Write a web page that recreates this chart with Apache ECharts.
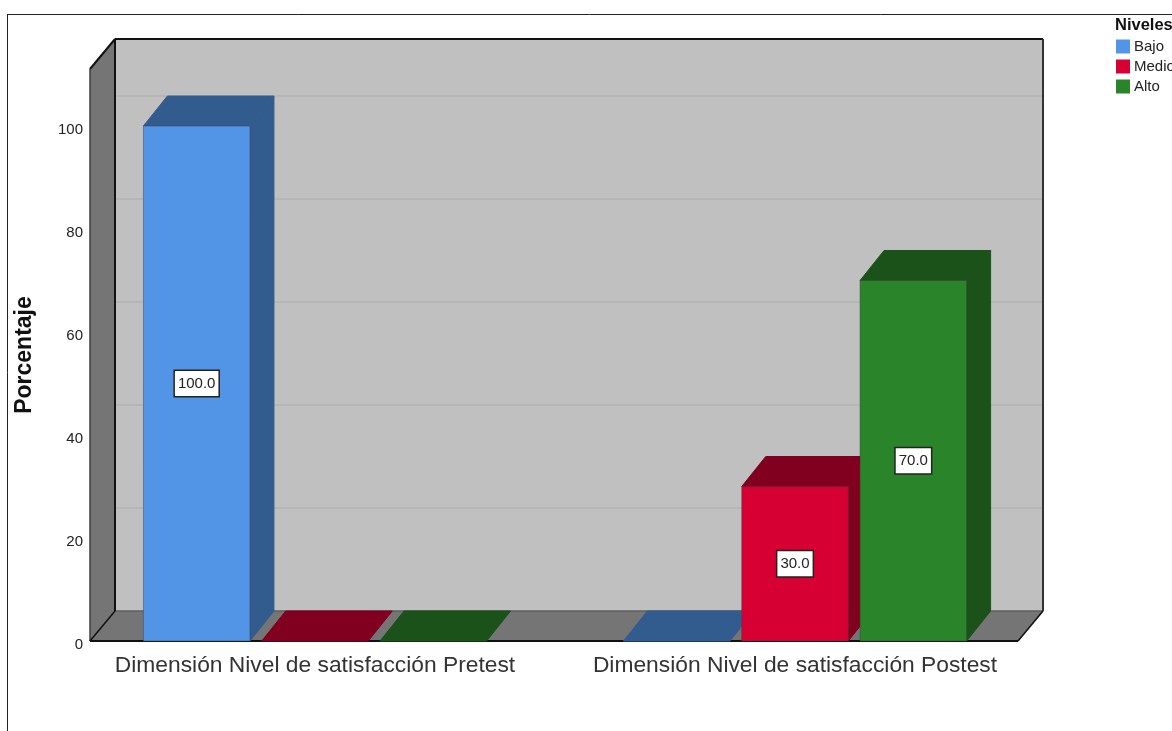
<!DOCTYPE html>
<html>
<head>
<meta charset="utf-8">
<style>
  html, body { margin: 0; padding: 0; background: #fff; overflow: hidden; }
  #chart { width: 1172px; height: 731px; }
</style>
</head>
<body>
<div id="chart"></div>
<script src="https://cdn.jsdelivr.net/npm/echarts@6/dist/echarts.min.js"></script>
<script>
const categories = ['Dimensión Nivel de satisfacción Pretest', 'Dimensión Nivel de satisfacción Postest'];
const bajo = [100, 0];
const medio = [0, 30];
const alto = [0, 70];
const gridTicks = [20, 40, 60, 80, 100];

const fontFamily = '"Liberation Sans", Arial, sans-serif';
const depthX = 25;
const depthY = -30;
const barDepthX = 24;
const floorLeft = 90;
const floorRight = 1018;
const yTop = 111.07;

const colors = {
  Bajo: ['#5294e6', '#335c8e'],
  Medio: ['#d60032', '#82001f'],
  Alto: ['#2a852a', '#1a521a'],
};

const poly = (points, fill, stroke) => ({
  type: 'polygon',
  shape: { points },
  style: { fill, stroke: stroke || fill, lineWidth: 1 },
});

const line = (x1, y1, x2, y2, stroke, lineWidth) => ({
  type: 'line',
  shape: { x1, y1, x2, y2 },
  style: { stroke, lineWidth },
});

// walls and floor, scaled from the y axis
const renderFrame = (params, api) => {
  const y0 = api.coord([0, 0])[1];
  const yT = api.coord([0, yTop])[1];
  const bl = floorLeft + depthX;
  const br = floorRight + depthX;
  const by = y0 + depthY;
  const ty = yT + depthY;
  const children = [
    poly([[bl, ty], [br, ty], [br, by], [bl, by]], '#c0c0c0'),
    poly([[floorLeft, yT], [bl, ty], [bl, by], [floorLeft, y0]], '#757575'),
    poly([[floorLeft, y0], [bl, by], [br, by], [floorRight, y0]], '#757575'),
  ];
  gridTicks.forEach(t => {
    const gy = api.coord([0, t])[1] + depthY;
    children.push(line(bl, gy, br, gy, '#b6b6b6', 2));
  });
  children.push(
    line(bl, by, br, by, '#555', 1),
    line(bl, ty, br, ty, '#111', 2),
    line(bl, ty, bl, by, '#111', 2),
    line(br, ty, br, by, '#333', 2),
    line(floorLeft, yT, bl, ty, '#111', 2),
    line(floorLeft, yT, floorLeft, y0, '#222', 1),
    line(floorLeft, y0, bl, by, '#111', 1.5),
    line(floorRight, y0, br, by, '#111', 1.5),
    line(floorLeft, y0, floorRight, y0, '#111', 2),
  );
  return { type: 'group', children };
};

const renderBar = (offset, [front, dark]) => (params, api) => {
  const cat = api.value(0);
  const val = api.value(1);
  const band = api.size([1, 0])[0];
  const center = api.coord([cat, 0])[0] + offset * band * 0.2465;
  const half = band * 0.222 / 2;
  const y0 = api.coord([cat, 0])[1];
  const y1 = api.coord([cat, val])[1];
  const l = center - half;
  const r = center + half;
  const children = [
    poly([[l, y1], [l + barDepthX, y1 + depthY], [r + barDepthX, y1 + depthY], [r, y1]], dark),
  ];
  if (val > 0) {
    children.push(
      poly([[r, y1], [r + barDepthX, y1 + depthY], [r + barDepthX, y0 + depthY], [r, y0]], dark),
      poly([[l, y1], [r, y1], [r, y0], [l, y0]], front, 'rgba(60,60,60,0.45)'),
      {
        type: 'text',
        z2: 10,
        style: {
          text: val.toFixed(1),
          x: center,
          y: (y0 + y1) / 2,
          align: 'center',
          verticalAlign: 'middle',
          fill: '#222',
          font: '15px ' + fontFamily,
          backgroundColor: '#fff',
          borderColor: '#222',
          borderWidth: 1.5,
          padding: [5, 3, 5, 3],
        },
      },
    );
  }
  return { type: 'group', children };
};

const barSeries = (name, values, offset) => ({
  name,
  type: 'custom',
  renderItem: renderBar(offset, colors[name]),
  itemStyle: { color: colors[name][0] },
  encode: { x: 0, y: 1 },
  data: values.map((v, i) => [i, v]),
});

const myChart = echarts.init(document.getElementById('chart'), null, { renderer: 'canvas' });

myChart.setOption({
  animation: false,
  backgroundColor: '#fff',
  textStyle: { fontFamily },
  grid: { left: 75, right: 137, top: 69, bottom: 90 },
  legend: {
    orient: 'vertical',
    left: 1112,
    top: 35,
    padding: 4,
    icon: 'rect',
    itemWidth: 14,
    itemHeight: 14,
    itemGap: 5,
    selectedMode: false,
    data: ['Bajo', 'Medio', 'Alto'],
    textStyle: { fontSize: 15, color: '#222', fontFamily, padding: [3, 0, 0, -1] },
  },
  xAxis: {
    type: 'category',
    data: categories,
    axisLine: { show: false },
    axisTick: { show: false },
    splitLine: { show: false },
    axisLabel: { fontSize: 22.8, color: '#333', margin: 13, interval: 0, fontFamily },
  },
  yAxis: {
    type: 'value',
    min: 0,
    max: yTop,
    interval: 20,
    offset: -15,
    name: 'Porcentaje',
    nameLocation: 'middle',
    nameGap: 54,
    nameTextStyle: { fontSize: 23, fontWeight: 'bold', color: '#111', fontFamily },
    axisLine: { show: false },
    axisTick: { show: false },
    splitLine: { show: false },
    axisLabel: {
      fontSize: 15,
      color: '#222',
      margin: 7,
      showMaxLabel: false,
      fontFamily,
      verticalAlign: 'top',
      lineHeight: 7,
    },
  },
  graphic: [
    { type: 'line', shape: { x1: 7, y1: 14.5, x2: 1172, y2: 14.5 }, style: { stroke: '#222', lineWidth: 1 } },
    { type: 'line', shape: { x1: 7.5, y1: 14, x2: 7.5, y2: 731 }, style: { stroke: '#222', lineWidth: 1 } },
    {
      type: 'text',
      left: 1115,
      top: 17,
      style: { text: 'Niveles', font: 'bold 16.5px ' + fontFamily, fill: '#111' },
    },
  ],
  series: [
    { name: 'marco', type: 'custom', renderItem: renderFrame, encode: { x: 0, y: 1 }, data: [[0, 0]], silent: true },
    barSeries('Bajo', bajo, -1),
    barSeries('Medio', medio, 0),
    barSeries('Alto', alto, 1),
  ],
});
</script>
</body>
</html>
